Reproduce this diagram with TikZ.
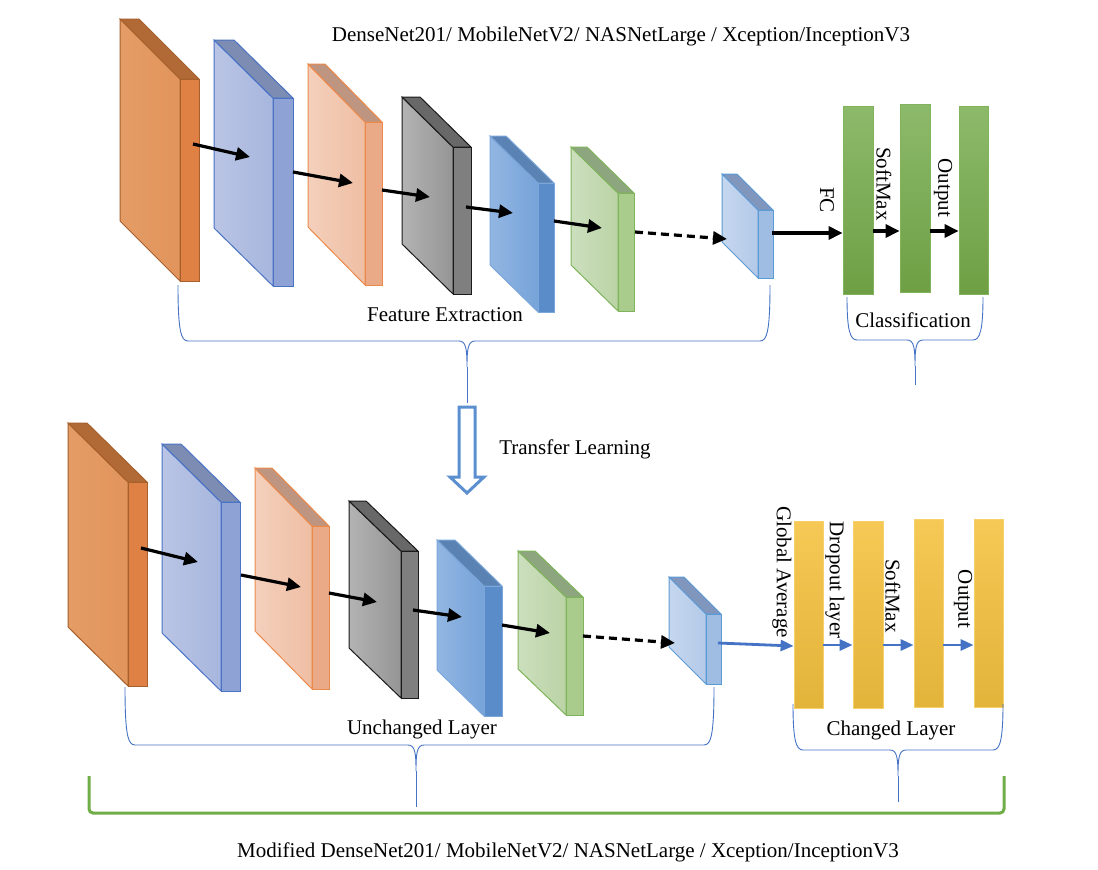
\documentclass[tikz,border=0pt]{standalone}
\usepackage{fontspec}
\setmainfont{Liberation Serif}
\usetikzlibrary{arrows.meta,calc}
% orange
\definecolor{oFa}{HTML}{E49C66}\definecolor{oFb}{HTML}{E2955C}\definecolor{oT}{HTML}{B16A36}\definecolor{oS}{HTML}{DF8144}\definecolor{oB}{HTML}{A6602B}
% light blue
\definecolor{lFa}{HTML}{BAC5E5}\definecolor{lFb}{HTML}{A7B6DE}\definecolor{lT}{HTML}{7C8CB2}\definecolor{lS}{HTML}{8EA2D5}\definecolor{lB}{HTML}{4A73C5}
% peach
\definecolor{pFa}{HTML}{F4D0BC}\definecolor{pFb}{HTML}{EFBEA3}\definecolor{pT}{HTML}{BE9580}\definecolor{pS}{HTML}{EAA987}\definecolor{pB}{HTML}{EC8A4C}
% gray
\definecolor{kFa}{HTML}{B3B3B3}\definecolor{kFb}{HTML}{959595}\definecolor{kT}{HTML}{686868}\definecolor{kS}{HTML}{7F7F7F}\definecolor{kB}{HTML}{1A1A1A}
% blue
\definecolor{bFa}{HTML}{92B6E2}\definecolor{bFb}{HTML}{76A3D9}\definecolor{bT}{HTML}{5A82B2}\definecolor{bS}{HTML}{5A8CC9}\definecolor{bB}{HTML}{7AA6DA}
% green
\definecolor{gFa}{HTML}{CCDFBE}\definecolor{gFb}{HTML}{BAD3A5}\definecolor{gT}{HTML}{8EA680}\definecolor{gS}{HTML}{A9CC8D}\definecolor{gB}{HTML}{7FB45A}
% small light blue
\definecolor{sFa}{HTML}{C6D7EF}\definecolor{sFb}{HTML}{B3C9E8}\definecolor{sT}{HTML}{8096BD}\definecolor{sS}{HTML}{9FBCE3}\definecolor{sB}{HTML}{5B9BD5}
% others
\definecolor{braceblue}{HTML}{4472C4}
\definecolor{arrblue}{HTML}{4472C4}
\definecolor{hollowblue}{HTML}{5B8FD0}
\definecolor{barGa}{HTML}{8CBA6B}\definecolor{barGb}{HTML}{6E9F44}\definecolor{barGB}{HTML}{80B35C}
\definecolor{barYa}{HTML}{F6C855}\definecolor{barYb}{HTML}{E2B43A}\definecolor{barYB}{HTML}{F6D06A}
\definecolor{bracketgreen}{HTML}{70AD47}
% box: #1 colour prefix, #2 x0, #3 y0, #4 dx, #5 dy, #6 h, #7 t
\newcommand\layerbox[7]{%
  \shadedraw[draw=#1B, line width=1pt, left color=#1Fa, right color=#1Fb]
    (#2,#3) -- ++(#4,#5) -- ++(0,#6) -- ++(-#4,-#5) -- cycle;
  \filldraw[draw=#1B, line width=1pt, fill=#1T]
    (#2,#3) -- ++(#7,0) -- ++(#4,#5) -- ++(-#7,0) -- cycle;
  \filldraw[draw=#1B, line width=1pt, fill=#1S]
    ($(#2,#3)+(#4,#5)$) -- ++(#7,0) -- ++(0,#6) -- ++(-#7,0) -- cycle;
}
% brace: #1 x1, #2 x2, #3 ytop, #4 ybottom, #5 xmid, #6 ytip
\newcommand\wbrace[6]{%
  \draw[bracestyle] (#1,#3) .. controls (#1,#4-10) and (#1+3,#4) .. (#1+10,#4)
     -- (#5-8,#4) .. controls (#5-1,#4) and (#5,#4+8) .. (#5,#4+26)
     .. controls (#5,#4+8) and (#5+1,#4) .. (#5+8,#4)
     -- (#2-10,#4) .. controls (#2-3,#4) and (#2,#4-10) .. (#2,#3);
  \draw[bracestyle] (#5,#4+26) -- (#5,#6);
}
\begin{document}
\begin{tikzpicture}[x=1pt,y=-1pt,
  lbl/.style={font=\fontsize{21}{25}\selectfont, inner sep=0pt},
  rlbl/.style={lbl, rotate=-90},
  bracestyle/.style={draw=braceblue, line width=0.9pt},
  arr/.style={line width=3.2pt, -{Triangle[length=14pt,width=13pt]}},
  darr/.style={arr, dash pattern=on 8pt off 5pt},
  barr/.style={draw=arrblue, line width=2.8pt, -{Triangle[length=13pt,width=11pt]}},
  gbar/.style={draw=barGB, line width=0.8pt, top color=barGa, bottom color=barGb, inner sep=0pt, minimum width=30pt, minimum height=188pt},
  ybar/.style={draw=barYB, line width=0.8pt, top color=barYa, bottom color=barYb, inner sep=0pt, minimum width=29pt, minimum height=187pt}]
\useasboundingbox (0,0) rectangle (1098,870);
\fill[white] (0,0) rectangle (1098,870);

% ---------- top network ----------
\node[lbl] (title) at (621,36) {DenseNet201/ MobileNetV2/ NASNetLarge / Xception/InceptionV3};
\layerbox{o}{120}{19}{60}{60}{202}{19}
\layerbox{l}{214}{40}{59}{58}{188}{20}
\layerbox{p}{308}{64}{57}{58}{163}{17}
\layerbox{k}{402}{97}{51}{50}{147}{18}
\layerbox{b}{490}{136}{48}{47}{129}{16}
\layerbox{g}{571}{147}{47}{46}{118}{16}
\layerbox{s}{722}{174}{36}{36}{68}{15}

\coordinate (t1s) at (193,144); \coordinate (t1e) at (250,157);
\coordinate (t2s) at (293,172); \coordinate (t2e) at (353,183);
\coordinate (t3s) at (382,190); \coordinate (t3e) at (430,197);
\coordinate (t4s) at (466,207); \coordinate (t4e) at (513,213);
\coordinate (t5s) at (554,221); \coordinate (t5e) at (602,228);
\coordinate (tds) at (635,232); \coordinate (tde) at (727,239);
\coordinate (t6s) at (772,233);
\draw[arr] (t1s) -- (t1e);
\draw[arr] (t2s) -- (t2e);
\draw[arr] (t3s) -- (t3e);
\draw[arr] (t4s) -- (t4e);
\draw[arr] (t5s) -- (t5e);
\draw[darr] (tds) -- (tde);

\node[gbar] (c1) at (858,200) {};
\node[gbar] (c2) at (915,198.5) {};
\node[gbar, minimum width=29pt] (c3) at (973.5,200) {};
\coordinate (ca) at (0,233);
\coordinate (cb) at (0,231);
\draw[arr] (t6s) -- (c1.west |- ca);
\draw[arr] (c1.east |- cb) -- (c2.west |- cb);
\draw[arr] (c2.east |- cb) -- (c3.west |- cb);
\node[rlbl] (fc) at (827,200) {FC};
\node[rlbl] (sm1) at (884,184) {SoftMax};
\node[rlbl] (out1) at (943,188) {Output};

\wbrace{178}{770}{285}{341}{467}{403}
\node[lbl] (fe) at (445,315) {Feature Extraction};
\wbrace{847}{983}{297}{340}{915}{385}
\node[lbl] (cls) at (913,320) {Classification};

% ---------- transfer arrow ----------
\draw[draw=hollowblue, line width=3pt, fill=white, line join=miter]
  (459,407) -- (475,407) -- (475,477) -- (484,477) -- (467,493) -- (450,477) -- (459,477) -- cycle;
\node[lbl] (tl) at (575,449) {Transfer Learning};

% ---------- bottom network ----------
\layerbox{o}{68}{423}{60}{59}{204}{19}
\layerbox{l}{162}{444}{59}{58}{189}{19}
\layerbox{p}{255}{468}{57}{58}{163}{17}
\layerbox{k}{349}{501}{52}{50}{147}{17}
\layerbox{b}{437}{540}{47}{46}{130}{18}
\layerbox{g}{518}{551}{48}{46}{118}{17}
\layerbox{s}{669}{577}{37}{37}{70}{15}

\coordinate (b1s) at (141,548); \coordinate (b1e) at (198,562);
\coordinate (b2s) at (241,575); \coordinate (b2e) at (301,587);
\coordinate (b3s) at (329,593); \coordinate (b3e) at (377,602);
\coordinate (b4s) at (413,610); \coordinate (b4e) at (462,617);
\coordinate (b5s) at (502,625); \coordinate (b5e) at (550,633);
\coordinate (bds) at (583,636); \coordinate (bde) at (675,643);
\coordinate (b6s) at (718,643);
\draw[arr] (b1s) -- (b1e);
\draw[arr] (b2s) -- (b2e);
\draw[arr] (b3s) -- (b3e);
\draw[arr] (b4s) -- (b4e);
\draw[arr] (b5s) -- (b5e);
\draw[darr] (bds) -- (bde);

\node[ybar] (y1) at (808.5,614.5) {};
\node[ybar, minimum width=30pt] (y2) at (868,614.5) {};
\node[ybar, minimum height=188pt] (y3) at (928.5,613) {};
\node[ybar, minimum height=188pt] (y4) at (988.5,613) {};
\coordinate (ya) at (0,646);
\coordinate (yb) at (0,645);
\draw[barr] (b6s) -- (y1.west |- ya);
\draw[barr] (y1.east |- yb) -- (y2.west |- yb);
\draw[barr] (y2.east |- yb) -- (y3.west |- yb);
\draw[barr] (y3.east |- yb) -- (y4.west |- yb);
\node[rlbl] (ga) at (782,572) {Global Average};
\node[rlbl] (dl) at (835,580) {Dropout layer};
\node[rlbl] (sm2) at (893,596) {SoftMax};
\node[rlbl] (out2) at (963,599) {Output};

\wbrace{125}{714}{687}{745}{416}{807}
\node[lbl] (ul) at (422,729) {Unchanged Layer};
\wbrace{793}{1003}{704}{750}{898}{802}
\node[lbl] (cl) at (891,730) {Changed Layer};

\draw[draw=bracketgreen, line width=3pt, rounded corners=4pt]
  (89,776) -- (89,813) -- (1004,813) -- (1004,776);
\node[lbl] (mod) at (568,852) {Modified DenseNet201/ MobileNetV2/ NASNetLarge / Xception/InceptionV3};
\end{tikzpicture}
\end{document}
